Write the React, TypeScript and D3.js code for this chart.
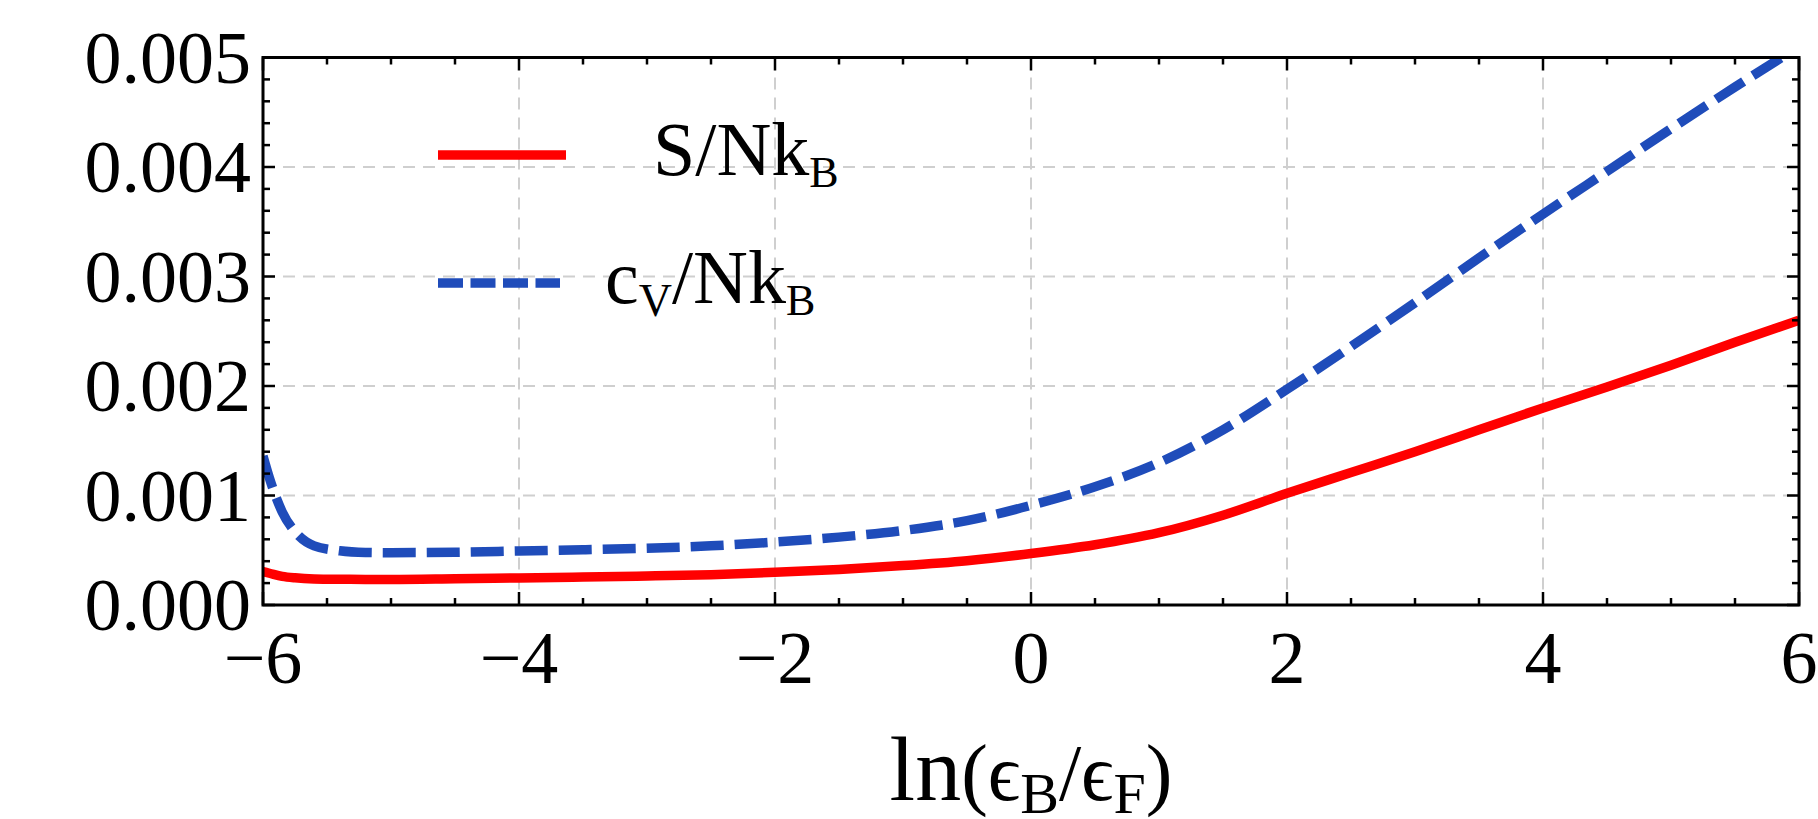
import { useEffect, useRef } from "react";
import * as d3 from "d3";

// ln(eB/eF) sample points
const xValues = [
  -6, -5.95, -5.85, -5.75, -5.6, -5.4, -5.2, -5, -4.5, -4, -3.5, -3, -2.5, -2,
  -1.5, -1, -0.5, 0, 0.5, 1, 1.5, 2, 2.5, 3, 3.5, 4, 4.5, 5, 5.5, 6,
];

// S / N k_B
const entropy = [
  0.000304, 0.00029, 0.000262, 0.000248, 0.000238, 0.000235, 0.000234,
  0.000234, 0.00024, 0.000247, 0.000255, 0.000265, 0.000277, 0.000298, 0.000325,
  0.00036, 0.000405, 0.00047, 0.00055, 0.00066, 0.00082, 0.00102, 0.00121,
  0.0014, 0.0016, 0.0018, 0.00199, 0.00219, 0.0024, 0.0026,
];

// c_V / N k_B
const heatCapacity = [
  0.00136, 0.00116, 0.00085, 0.00067, 0.00054, 0.000495, 0.00048, 0.000478,
  0.000482, 0.000493, 0.000505, 0.000518, 0.00054, 0.000575, 0.00062, 0.00068,
  0.00077, 0.00091, 0.00108, 0.0013, 0.0016, 0.00197, 0.00236, 0.00276,
  0.00317, 0.00357, 0.00396, 0.00435, 0.00473, 0.0051,
];

const xTicks = [-6, -4, -2, 0, 2, 4, 6];
const xTickLabels = ["\u22126", "\u22124", "\u22122", "0", "2", "4", "6"];
const yTicks = [0, 0.001, 0.002, 0.003, 0.004, 0.005];
const yTickLabels = ["0.000", "0.001", "0.002", "0.003", "0.004", "0.005"];

const W = 1818;
const H = 819;
const FONT = "'Liberation Serif', 'DejaVu Serif', serif";
const RED = "#ff0000";
const BLUE = "#1f4cba";

const App = () => {
  const ref = useRef<SVGSVGElement | null>(null);

  useEffect(() => {
    if (!ref.current) return;
    const left = 263;
    const right = 1799;
    const top = 57.5;
    const bottom = 605;

    const x = d3.scaleLinear().domain([-6, 6]).range([left, right]);
    const y = d3.scaleLinear().domain([0, 0.005]).range([bottom, top]);

    const svg = d3.select(ref.current);
    svg.selectAll("*").remove();
    svg.attr("width", W).attr("height", H);

    svg
      .append("defs")
      .append("clipPath")
      .attr("id", "plot")
      .append("rect")
      .attr("x", left)
      .attr("y", top)
      .attr("width", right - left)
      .attr("height", bottom - top);

    // grid
    const grid = svg
      .append("g")
      .attr("stroke", "#cfcfcf")
      .attr("stroke-width", 2)
      .attr("stroke-dasharray", "12 8");
    grid
      .selectAll("line.gx")
      .data(xTicks.slice(1, -1))
      .join("line")
      .attr("x1", (d) => x(d))
      .attr("x2", (d) => x(d))
      .attr("y1", top)
      .attr("y2", bottom);
    grid
      .selectAll("line.gy")
      .data(yTicks.slice(1, -1))
      .join("line")
      .attr("class", "gy")
      .attr("x1", left)
      .attr("x2", right)
      .attr("y1", (d) => y(d))
      .attr("y2", (d) => y(d));

    // curves
    const line = d3
      .line<number>()
      .x((_, i) => x(xValues[i]))
      .y((d) => y(d))
      .curve(d3.curveMonotoneX);

    const curves = svg.append("g").attr("clip-path", "url(#plot)");
    curves
      .append("path")
      .attr("d", line(entropy))
      .attr("fill", "none")
      .attr("stroke", RED)
      .attr("stroke-width", 9.5);
    curves
      .append("path")
      .attr("d", line(heatCapacity))
      .attr("fill", "none")
      .attr("stroke", BLUE)
      .attr("stroke-width", 9.5)
      .attr("stroke-dasharray", "33 11");

    // frame
    svg
      .append("rect")
      .attr("x", left)
      .attr("y", top)
      .attr("width", right - left)
      .attr("height", bottom - top)
      .attr("fill", "none")
      .attr("stroke", "#000")
      .attr("stroke-width", 3);

    // ticks on all four sides, pointing inward
    const xMinor = d3.range(-6, 6.01, 0.5).filter((v) => !xTicks.includes(v));
    const yMinor = d3
      .range(0, 0.00501, 0.0002)
      .filter((v) => !yTicks.some((t) => Math.abs(t - v) < 1e-9));
    const ticks = svg.append("g").attr("stroke", "#000").attr("stroke-width", 2.5);
    const xt = [
      ...xTicks.map((v) => ({ v, len: 13 })),
      ...xMinor.map((v) => ({ v, len: 7 })),
    ];
    const yt = [
      ...yTicks.map((v) => ({ v, len: 12 })),
      ...yMinor.map((v) => ({ v, len: 7 })),
    ];
    ticks
      .selectAll("line.xb")
      .data(xt)
      .join("line")
      .attr("x1", (d) => x(d.v))
      .attr("x2", (d) => x(d.v))
      .attr("y1", bottom)
      .attr("y2", (d) => bottom - d.len);
    ticks
      .selectAll("line.xt")
      .data(xt)
      .join("line")
      .attr("class", "xt")
      .attr("x1", (d) => x(d.v))
      .attr("x2", (d) => x(d.v))
      .attr("y1", top)
      .attr("y2", (d) => top + d.len);
    ticks
      .selectAll("line.yl")
      .data(yt)
      .join("line")
      .attr("class", "yl")
      .attr("y1", (d) => y(d.v))
      .attr("y2", (d) => y(d.v))
      .attr("x1", left)
      .attr("x2", (d) => left + d.len);
    ticks
      .selectAll("line.yr")
      .data(yt)
      .join("line")
      .attr("class", "yr")
      .attr("y1", (d) => y(d.v))
      .attr("y2", (d) => y(d.v))
      .attr("x1", right)
      .attr("x2", (d) => right - d.len);

    // tick labels
    svg
      .append("g")
      .attr("font-family", FONT)
      .attr("font-size", 74)
      .attr("text-anchor", "middle")
      .selectAll("text")
      .data(xTicks)
      .join("text")
      .attr("x", (d) => x(d))
      .attr("y", bottom + 78)
      .text((_, i) => xTickLabels[i]);
    svg
      .append("g")
      .attr("font-family", FONT)
      .attr("font-size", 74)
      .attr("text-anchor", "end")
      .selectAll("text")
      .data(yTicks)
      .join("text")
      .attr("x", left - 12)
      .attr("y", (d) => y(d) + 25)
      .text((_, i) => yTickLabels[i]);

    // x axis title: ln(eB/eF)
    const title = svg
      .append("text")
      .attr("x", (left + right) / 2)
      .attr("y", 800)
      .attr("text-anchor", "middle")
      .attr("font-family", FONT);
    title.append("tspan").attr("font-size", 92).text("ln");
    title.append("tspan").attr("font-size", 80).text("(\u03f5");
    title.append("tspan").attr("font-size", 58).attr("dy", 13).text("B");
    title.append("tspan").attr("font-size", 80).attr("dy", -13).text("/\u03f5");
    title.append("tspan").attr("font-size", 58).attr("dy", 13).text("F");
    title.append("tspan").attr("font-size", 80).attr("dy", -13).text(")");

    // legend
    const legend = svg.append("g");
    legend
      .append("line")
      .attr("x1", 438)
      .attr("x2", 566)
      .attr("y1", 155)
      .attr("y2", 155)
      .attr("stroke", RED)
      .attr("stroke-width", 9.5);
    legend
      .append("line")
      .attr("x1", 438)
      .attr("x2", 560)
      .attr("y1", 283)
      .attr("y2", 283)
      .attr("stroke", BLUE)
      .attr("stroke-width", 9.5)
      .attr("stroke-dasharray", "25 7.5");

    const s = legend
      .append("text")
      .attr("x", 653)
      .attr("y", 175)
      .attr("font-family", FONT)
      .attr("font-size", 76);
    s.append("tspan").text("S/Nk");
    s.append("tspan").attr("font-size", 44).attr("dy", 12).text("B");

    const c = legend
      .append("text")
      .attr("x", 605)
      .attr("y", 303)
      .attr("font-family", FONT)
      .attr("font-size", 76);
    c.append("tspan").text("c");
    c.append("tspan").attr("font-size", 46).attr("dy", 13).text("V");
    c.append("tspan").attr("dy", -13).text("/Nk");
    c.append("tspan").attr("font-size", 44).attr("dy", 12).text("B");
  }, []);

  return (
    <svg
      ref={ref}
      style={{ position: "absolute", left: 0, top: 0, display: "block" }}
    ></svg>
  );
};

export default App;
